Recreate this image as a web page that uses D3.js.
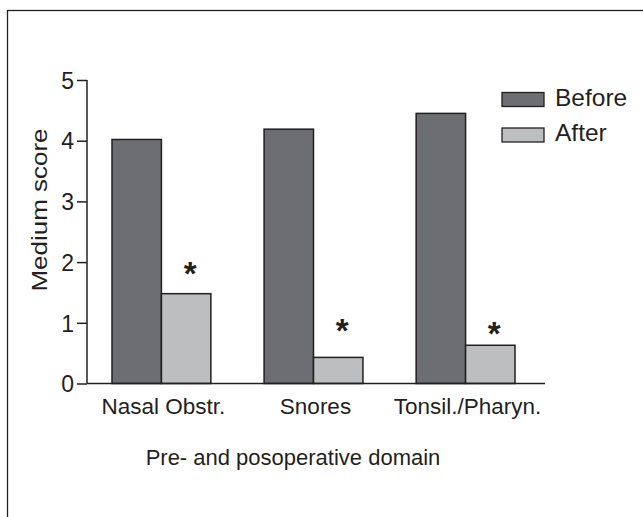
<!DOCTYPE html>
<html>
<head>
<meta charset="utf-8">
<script src="https://cdn.jsdelivr.net/npm/d3@7"></script>
<style>
  body { margin: 0; background: #fff; }
  text { font-family: "Liberation Sans", Arial, sans-serif; fill: #231f20; }
</style>
</head>
<body>
<script>
// chart values
var domains = ["Nasal Obstr.", "Snores", "Tonsil./Pharyn."];
var series = ["Before", "After"];
var before = [4.02, 4.19, 4.45];
var after = [1.48, 0.43, 0.63];
var starLevel = [1.9, 0.96, 0.91];   // where the * sits, in score units
var yTicks = [0, 1, 2, 3, 4, 5];

var W = 643, H = 517;
var colors = { Before: "#6d6e71", After: "#bcbec0" };
var ink = "#231f20";

var svg = d3.select("body").append("svg")
    .attr("width", W)
    .attr("height", H);

// outer frame (runs off the right / bottom of the picture)
svg.append("rect")
    .attr("x", 7.5).attr("y", 10.5)
    .attr("width", 700).attr("height", 600)
    .attr("fill", "none")
    .attr("stroke", ink)
    .attr("stroke-width", 1.3);

var data = domains.map(function(d, i) {
    return { name: d, Before: before[i], After: after[i], star: starLevel[i] };
});

// scales
var y = d3.scaleLinear().domain([0, 5]).range([383.5, 80]);
var x0 = d3.scaleBand().domain(domains).range([112, 515]).paddingInner(0.35);
var x1 = d3.scaleBand().domain(series).range([0, x0.bandwidth()]);

// y axis
var yAxis = svg.append("g")
    .attr("transform", "translate(87,0)")
    .attr("font-size", null)
    .call(d3.axisLeft(y).tickValues(yTicks).tickSize(10).tickPadding(3).tickFormat(d3.format("d")));
yAxis.select(".domain").attr("d", "M0," + y(5) + "V" + y(0)).attr("stroke", ink).attr("stroke-width", 1.5);
yAxis.selectAll(".tick line").attr("stroke", ink).attr("stroke-width", 1.5);
yAxis.selectAll(".tick text")
    .attr("dy", "0.36em")
    .style("font-size", "23px")
    .style("font-family", "Liberation Sans, Arial, sans-serif")
    .attr("fill", ink);

// bars
var groups = svg.selectAll("g.grp")
    .data(data)
    .join("g")
    .attr("class", "grp")
    .attr("transform", function(d) { return "translate(" + x0(d.name) + ",0)"; });

groups.selectAll("rect")
    .data(function(d) { return series.map(function(s) { return { key: s, value: d[s] }; }); })
    .join("rect")
    .attr("x", function(d) { return x1(d.key); })
    .attr("y", function(d) { return y(d.value); })
    .attr("width", x1.bandwidth())
    .attr("height", function(d) { return y(0) - y(d.value); })
    .attr("fill", function(d) { return colors[d.key]; })
    .attr("stroke", ink)
    .attr("stroke-width", 1.5);

// significance stars
groups.append("text")
    .attr("x", x1("After") + x1.bandwidth() / 2 + 4)
    .attr("y", function(d) { return y(d.star) + 17; })
    .attr("text-anchor", "middle")
    .style("font-size", "33px")
    .style("font-weight", "bold")
    .text("*");

// x baseline
svg.append("line")
    .attr("x1", 87).attr("x2", 545)
    .attr("y1", y(0)).attr("y2", y(0))
    .attr("stroke", ink)
    .attr("stroke-width", 1.5);

// category labels
svg.selectAll("text.cat")
    .data(domains)
    .join("text")
    .attr("class", "cat")
    .attr("x", function(d) { return x0(d) + x0.bandwidth() / 2 + 2; })
    .attr("y", 414)
    .attr("text-anchor", "middle")
    .style("font-size", "22.5px")
    .text(function(d) { return d; });

// axis titles
svg.append("text")
    .attr("x", 293).attr("y", 465)
    .attr("text-anchor", "middle")
    .style("font-size", "22px")
    .text("Pre- and posoperative domain");

svg.append("text")
    .attr("transform", "translate(47,210) rotate(-90)")
    .attr("text-anchor", "middle")
    .attr("textLength", 163)
    .attr("lengthAdjust", "spacingAndGlyphs")
    .style("font-size", "22px")
    .text("Medium score");

// legend
var legend = svg.selectAll("g.leg")
    .data(series)
    .join("g")
    .attr("class", "leg")
    .attr("transform", function(d, i) { return "translate(502," + (92.5 + i * 35.5) + ")"; });

legend.append("rect")
    .attr("width", 42).attr("height", 14)
    .attr("fill", function(d) { return colors[d]; })
    .attr("stroke", ink)
    .attr("stroke-width", 1.3);

legend.append("text")
    .attr("x", 53).attr("y", 13)
    .style("font-size", "24.5px")
    .text(function(d) { return d; });
</script>
</body>
</html>
